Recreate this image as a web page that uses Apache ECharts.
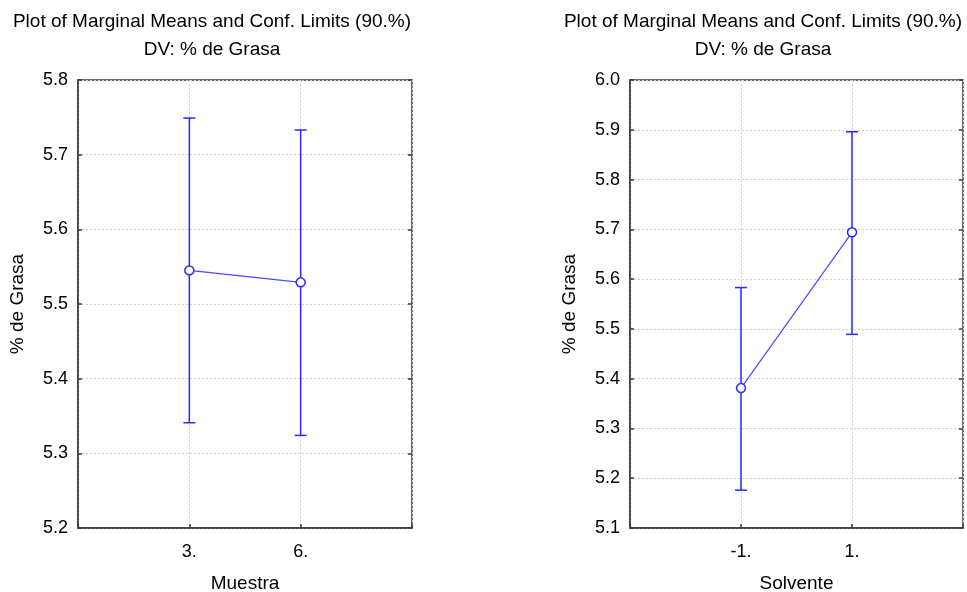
<!DOCTYPE html>
<html>
<head>
<meta charset="utf-8">
<script src="https://cdn.jsdelivr.net/npm/echarts@6/dist/echarts.min.js"></script>
<style>
  html, body { margin: 0; padding: 0; background: #fff; }
  #chart { width: 967px; height: 592px; }
</style>
</head>
<body>
<div id="chart"></div>
<script>
// datos
const muestraCats = ['3.', '6.'];
const muestraMean = [5.545, 5.529];
const muestraLower = [5.341, 5.324];
const muestraUpper = [5.749, 5.733];

const solventeCats = ['-1.', '1.'];
const solventeMean = [5.381, 5.694];
const solventeLower = [5.176, 5.489];
const solventeUpper = [5.583, 5.896];

const muestraRange = [5.2, 5.8];
const solventeRange = [5.1, 6.0];

const titleText = 'Plot of Marginal Means and Conf. Limits (90.%)\nDV: % de Grasa';
const yName = '% de Grasa';

const FONT = 'Liberation Sans, Arial, sans-serif';
const BLUE = '#2a2aff';

(function () {
    const el = document.getElementById('chart');
    const chart = echarts.init(el);

    function xAxisFor(gridIndex, cats, name) {
        return {
            gridIndex: gridIndex,
            type: 'value',
            min: 0, max: cats.length + 1, interval: 1,
            name: name,
            nameLocation: 'middle',
            nameGap: 46,
            nameTextStyle: { fontFamily: FONT, fontSize: 19, color: '#000' },
            axisLine: { show: true, lineStyle: { color: '#3a3a3a', width: 1.5 } },
            axisTick: { show: true, inside: true, length: 4, lineStyle: { color: '#3a3a3a', width: 1.5 } },
            axisLabel: {
                margin: 15,
                fontFamily: FONT, fontSize: 18, color: '#000',
                formatter: v => cats[v - 1] || ''
            },
            splitLine: { show: true, lineStyle: { color: '#cfcfcf', type: [2, 2], width: 1 } }
        };
    }

    function yAxesFor(gridIndex, range) {
        const base = {
            gridIndex: gridIndex,
            type: 'value',
            min: range[0], max: range[1], interval: 0.1
        };
        return [
            Object.assign({}, base, {
                name: yName,
                nameLocation: 'middle',
                nameGap: 51,
                nameTextStyle: { fontFamily: FONT, fontSize: 19, color: '#000' },
                axisLine: { show: true, lineStyle: { color: '#3a3a3a', width: 1.5 } },
                axisTick: { show: true, inside: true, length: 4, lineStyle: { color: '#3a3a3a', width: 1.5 } },
                axisLabel: {
                    margin: 10,
                    fontFamily: FONT, fontSize: 18, color: '#000',
                    formatter: v => v.toFixed(1)
                },
                splitLine: { show: true, lineStyle: { color: '#cfcfcf', type: [2, 2], width: 1 } }
            }),
            // eje derecho solo para las marcas
            Object.assign({}, base, {
                position: 'right',
                axisLine: { show: false },
                axisTick: { show: true, inside: true, length: 4, lineStyle: { color: '#3a3a3a', width: 1.5 } },
                axisLabel: { show: false },
                splitLine: { show: false }
            })
        ];
    }

    function errorBars(xIdx, yIdx, lower, upper) {
        return {
            type: 'custom',
            xAxisIndex: xIdx,
            yAxisIndex: yIdx,
            z: 2,
            data: lower.map((lo, i) => [i + 1, lo, upper[i]]),
            renderItem: function (params, api) {
                const x = api.value(0);
                const pLo = api.coord([x, api.value(1)]);
                const pHi = api.coord([x, api.value(2)]);
                const w = 6;
                const st = { stroke: BLUE, lineWidth: 1.5 };
                return {
                    type: 'group',
                    children: [
                        { type: 'line', shape: { x1: pLo[0], y1: pLo[1], x2: pHi[0], y2: pHi[1] }, style: st },
                        { type: 'line', shape: { x1: pLo[0] - w, y1: pLo[1], x2: pLo[0] + w, y2: pLo[1] }, style: st },
                        { type: 'line', shape: { x1: pHi[0] - w, y1: pHi[1], x2: pHi[0] + w, y2: pHi[1] }, style: st }
                    ]
                };
            }
        };
    }

    function meanLine(xIdx, yIdx, means) {
        return {
            type: 'line',
            xAxisIndex: xIdx,
            yAxisIndex: yIdx,
            z: 5,
            data: means.map((m, i) => [i + 1, m]),
            symbol: 'circle',
            symbolSize: 9,
            itemStyle: { color: '#fff', borderColor: BLUE, borderWidth: 1.5 },
            lineStyle: { color: '#4a4aff', width: 1.2 },
            animation: false
        };
    }

    const yLeft = yAxesFor(0, muestraRange);
    const yRight = yAxesFor(1, solventeRange);

    const titleStyle = { fontFamily: FONT, fontSize: 19, fontWeight: 'normal', color: '#000', lineHeight: 28 };

    const option = {
        animation: false,
        backgroundColor: '#fff',
        title: [
            { text: titleText, left: 212, top: 8, padding: 0, textAlign: 'center', textStyle: titleStyle },
            { text: titleText, left: 763, top: 8, padding: 0, textAlign: 'center', textStyle: titleStyle }
        ],
        grid: [
            { left: 78, right: 555, top: 80, bottom: 64, outerBoundsMode: 'none', show: true, borderColor: '#3a3a3a', borderWidth: 1.5 },
            { left: 630, right: 4, top: 80, bottom: 64, outerBoundsMode: 'none', show: true, borderColor: '#3a3a3a', borderWidth: 1.5 }
        ],
        xAxis: [
            xAxisFor(0, muestraCats, 'Muestra'),
            xAxisFor(1, solventeCats, 'Solvente')
        ],
        yAxis: [yLeft[0], yLeft[1], yRight[0], yRight[1]],
        series: [
            errorBars(0, 0, muestraLower, muestraUpper),
            meanLine(0, 0, muestraMean),
            errorBars(1, 2, solventeLower, solventeUpper),
            meanLine(1, 2, solventeMean)
        ]
    };

    chart.setOption(option);
})();
</script>
</body>
</html>
